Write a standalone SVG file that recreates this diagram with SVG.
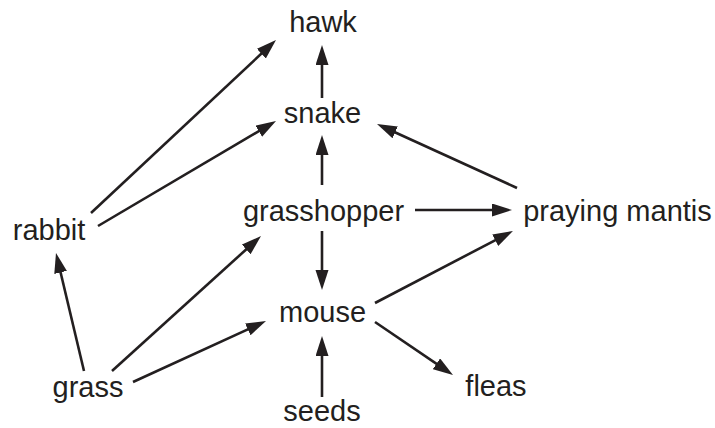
<svg xmlns="http://www.w3.org/2000/svg" width="715" height="428" viewBox="0 0 715 428">
<style>
text{font-family:"Liberation Sans",Arial,sans-serif;font-size:29px;fill:#231f20;text-anchor:middle}
.c line{stroke:#231f20;stroke-width:2.6;fill:none}
</style>
<defs>
<marker id="ah" markerUnits="userSpaceOnUse" markerWidth="22" markerHeight="14" refX="10" refY="6.5" orient="auto" viewBox="0 0 22 14">
<path d="M0,0 L20,6.5 L0,13 z" fill="#231f20"/>
</marker>
</defs>
<rect width="715" height="428" fill="#fff"/>
<g id="hawk"><text x="323" y="32">hawk</text></g>
<g id="snake"><text x="322.5" y="123">snake</text></g>
<g id="rabbit"><text x="49" y="240">rabbit</text></g>
<g id="grasshopper"><text x="323.5" y="221">grasshopper</text></g>
<g id="praying-mantis"><text x="617.5" y="221">praying mantis</text></g>
<g id="mouse"><text x="322.5" y="322">mouse</text></g>
<g id="grass"><text x="88" y="397">grass</text></g>
<g id="seeds"><text x="322" y="421">seeds</text></g>
<g id="fleas"><text x="496" y="396">fleas</text></g>
<g id="connectors" class="c">
<line x1="322" y1="98" x2="322" y2="55" marker-end="url(#ah)"/>
<line x1="91" y1="213" x2="268.7" y2="46.8" marker-end="url(#ah)"/>
<line x1="98" y1="226" x2="267.4" y2="126.1" marker-end="url(#ah)"/>
<line x1="322" y1="185" x2="322" y2="145" marker-end="url(#ah)"/>
<line x1="517" y1="188" x2="386.1" y2="128.2" marker-end="url(#ah)"/>
<line x1="415" y1="210" x2="502" y2="210" marker-end="url(#ah)"/>
<line x1="322" y1="231" x2="322" y2="280" marker-end="url(#ah)"/>
<line x1="375" y1="303" x2="504.1" y2="235.6" marker-end="url(#ah)"/>
<line x1="375" y1="322" x2="444.7" y2="369.4" marker-end="url(#ah)"/>
<line x1="322" y1="397" x2="322" y2="346" marker-end="url(#ah)"/>
<line x1="84" y1="371" x2="58.3" y2="262.7" marker-end="url(#ah)"/>
<line x1="112" y1="371" x2="253.6" y2="242.7" marker-end="url(#ah)"/>
<line x1="133" y1="382" x2="256.9" y2="325.2" marker-end="url(#ah)"/>
</g>
</svg>
